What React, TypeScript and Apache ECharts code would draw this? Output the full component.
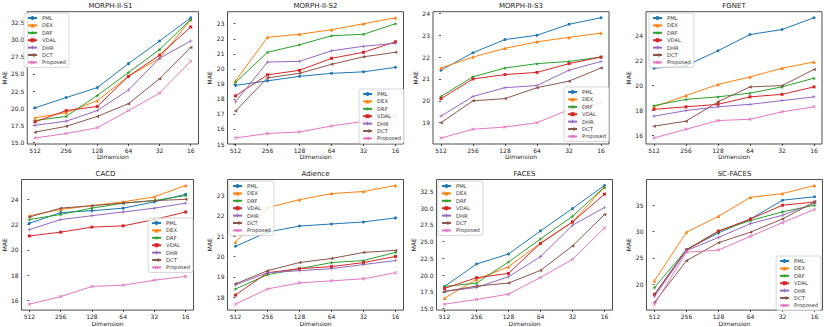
import React, { useEffect, useRef } from 'react';
import * as echarts from 'echarts';

const DIMENSIONS = ['512', '256', '128', '64', '32', '16'];
const METHODS = ['PML', 'DEX', 'DRF', 'VDAL', 'DHR', 'DCT', 'Proposed'];
const COLORS = ['#1f77b4', '#ff7f0e', '#2ca02c', '#d62728', '#9467bd', '#8c564b', '#e377c2'];

// rows follow METHODS order
const MORPH_S1 = [
  [20.05, 21.55, 23.0, 26.5, 29.8, 33.2],
  [18.6, 19.35, 21.1, 24.65, 27.3, 32.9],
  [18.2, 18.8, 21.85, 25.2, 28.55, 32.95],
  [18.0, 19.65, 20.25, 24.65, 27.75, 31.85],
  [17.5, 18.1, 19.65, 22.65, 27.3, 29.8],
  [16.5, 17.35, 18.8, 20.65, 24.3, 28.85],
  [15.65, 16.3, 17.15, 19.65, 22.2, 26.85],
];
const MORPH_S2 = [
  [18.9, 19.2, 19.5, 19.7, 19.8, 20.1],
  [19.2, 22.1, 22.3, 22.6, 23.0, 23.4],
  [19.1, 21.1, 21.6, 22.2, 22.3, 23.0],
  [18.2, 19.6, 19.9, 20.7, 21.1, 21.8],
  [17.8, 20.45, 20.5, 21.2, 21.5, 21.7],
  [17.2, 19.4, 19.7, 20.3, 20.8, 21.1],
  [15.4, 15.7, 15.8, 16.2, 16.5, 16.9],
];
const MORPH_S3 = [
  [21.4, 22.2, 22.8, 23.0, 23.5, 23.8],
  [21.5, 22.0, 22.4, 22.7, 22.9, 23.1],
  [20.2, 21.1, 21.5, 21.7, 21.8, 22.0],
  [20.1, 21.0, 21.2, 21.3, 21.7, 22.0],
  [19.3, 20.2, 20.6, 20.7, 21.4, 21.8],
  [19.0, 20.0, 20.1, 20.6, 20.9, 21.5],
  [18.3, 18.7, 18.8, 19.0, 19.6, 19.9],
];
const FGNET = [
  [21.4, 21.6, 22.8, 24.1, 24.5, 25.45],
  [18.3, 19.2, 20.1, 20.7, 21.4, 21.9],
  [18.4, 18.9, 19.1, 19.4, 19.9, 20.6],
  [18.1, 18.3, 18.5, 19.1, 19.3, 19.9],
  [17.55, 18.0, 18.3, 18.5, 18.8, 19.1],
  [16.75, 17.15, 18.7, 19.9, 20.0, 21.3],
  [15.8, 16.5, 17.2, 17.3, 17.9, 18.3],
];
const CACD = [
  [22.1, 22.95, 23.1, 23.3, 23.8, 24.4],
  [22.7, 23.2, 23.5, 23.8, 24.2, 25.1],
  [22.4, 22.8, 23.3, 23.7, 23.9, 24.3],
  [21.1, 21.4, 21.8, 21.9, 22.4, 23.0],
  [21.6, 22.4, 22.7, 23.0, 23.3, 23.7],
  [22.6, 23.3, 23.5, 23.7, 23.9, 24.0],
  [15.7, 16.3, 17.1, 17.2, 17.6, 17.9],
];
const ADIENCE = [
  [20.5, 21.2, 21.5, 21.6, 21.7, 21.9],
  [20.7, 22.4, 22.8, 23.1, 23.2, 23.5],
  [18.4, 19.1, 19.4, 19.7, 19.8, 20.2],
  [18.1, 19.2, 19.4, 19.5, 19.7, 20.0],
  [18.6, 19.2, 19.3, 19.4, 19.6, 19.8],
  [18.65, 19.3, 19.7, 19.9, 20.2, 20.3],
  [17.65, 18.4, 18.7, 18.8, 18.9, 19.2],
];
const FACES = [
  [18.3, 21.65, 23.15, 26.6, 29.95, 33.4],
  [16.55, 19.35, 21.25, 24.75, 27.95, 33.15],
  [18.3, 18.8, 21.95, 25.4, 28.8, 33.15],
  [18.0, 19.6, 20.25, 24.75, 27.95, 32.1],
  [17.55, 18.15, 19.75, 22.75, 27.45, 30.1],
  [17.55, 18.35, 18.8, 20.7, 24.35, 29.05],
  [15.65, 16.35, 17.15, 19.65, 22.35, 27.05],
];
const SC_FACES = [
  [18.1, 26.6, 29.75, 32.4, 35.95, 36.6],
  [20.7, 29.9, 32.9, 36.5, 37.2, 38.75],
  [19.4, 26.6, 30.1, 32.1, 33.75, 35.0],
  [18.1, 26.5, 30.1, 32.4, 35.0, 35.6],
  [17.7, 26.4, 28.9, 31.5, 33.1, 35.4],
  [16.6, 24.5, 27.9, 29.9, 32.4, 35.6],
  [16.25, 26.1, 26.5, 29.1, 31.7, 34.2],
];

const TICKS_S1 = [15, 17.5, 20, 22.5, 25, 27.5, 30, 32.5];
const TICKS_S2 = [15, 16, 17, 18, 19, 20, 21, 22, 23];
const TICKS_S3 = [19, 20, 21, 22, 23, 24];
const TICKS_FGNET = [16, 18, 20, 22, 24];
const TICKS_CACD = [16, 18, 20, 22, 24];
const TICKS_ADIENCE = [18, 19, 20, 21, 22, 23];
const TICKS_FACES = [15, 17.5, 20, 22.5, 25, 27.5, 30, 32.5];
const TICKS_SC = [20, 25, 30, 35];

const STAR = 'path://M50,0 L61,35 L98,35 L68,57 L79,91 L50,70 L21,91 L32,57 L2,35 L39,35 Z';
const PLUS = 'path://M40,0 H60 V40 H100 V60 H60 V100 H40 V60 H0 V40 H40 Z';
const CROSS = 'path://M15,0 L50,35 L85,0 L100,15 L65,50 L100,85 L85,100 L50,65 L15,100 L0,85 L35,50 L0,15 Z';
const TRI_LEFT = 'path://M0,50 L100,0 L100,100 Z';
const SYMBOLS = ['circle', 'triangle', STAR, 'rect', PLUS, TRI_LEFT, CROSS];
const SYMBOL_SIZES = [3, 3.5, 4, 3, 3.5, 3.5, 3.5];

const FONT = 'DejaVu Sans';
const INK = '#222';

const ROW1_TOP = 11.7;
const ROW2_TOP = 179.5;
const H = 132.3;
const W = 176;

const PANELS = [
  { title: 'MORPH-II-S1', data: MORPH_S1, ticks: TICKS_S1, dec: 1, left: 22.5, top: ROW1_TOP, nameGap: 18, legend: { left: 24, top: 13 } },
  { title: 'MORPH-II-S2', data: MORPH_S2, ticks: TICKS_S2, dec: 0, left: 227.5, top: ROW1_TOP, nameGap: 12, legend: { right: 427, top: 89 } },
  { title: 'MORPH-II-S3', data: MORPH_S3, ticks: TICKS_S3, dec: 0, left: 433, top: ROW1_TOP, nameGap: 10, legend: { right: 222, top: 87 } },
  { title: 'FGNET', data: FGNET, ticks: TICKS_FGNET, dec: 0, left: 646, top: ROW1_TOP, nameGap: 10, legend: { left: 649, top: 13 } },
  { title: 'CACD', data: CACD, ticks: TICKS_CACD, dec: 0, left: 17.5, top: ROW2_TOP, nameGap: 11, legend: { right: 638, top: 218 } },
  { title: 'Adience', data: ADIENCE, ticks: TICKS_ADIENCE, dec: 0, left: 227.5, top: ROW2_TOP, nameGap: 12, legend: { left: 229, top: 181 } },
  { title: 'FACES', data: FACES, ticks: TICKS_FACES, dec: 1, left: 436.5, top: ROW2_TOP, nameGap: 18, legend: { left: 438, top: 181 } },
  { title: 'SC-FACES', data: SC_FACES, ticks: TICKS_SC, dec: 0, left: 646.5, top: ROW2_TOP, nameGap: 11, legend: { right: 10, top: 256 } },
];

const X_POS = DIMENSIONS.map((_, i) => i);

function buildOption() {
  const grid: any[] = [];
  const xAxis: any[] = [];
  const yAxis: any[] = [];
  const series: any[] = [];
  const legend: any[] = [];
  const graphic: any[] = [];

  PANELS.forEach((p, i) => {
    const all = p.data.flat();
    const dmin = Math.min(...all);
    const dmax = Math.max(...all);
    const pad = (dmax - dmin) * 0.05;

    grid.push({
      left: p.left, top: p.top, width: W, height: H,
      show: true, borderColor: INK, borderWidth: 0.8, backgroundColor: 'transparent',
    });
    xAxis.push({
      type: 'value', gridIndex: i, min: -0.25, max: 5.25,
      axisLine: { show: false },
      splitLine: { show: false },
      axisTick: { show: true, customValues: X_POS, length: 2, lineStyle: { color: INK, width: 0.8 } },
      axisLabel: {
        customValues: X_POS, fontSize: 6, color: INK, margin: 3, fontFamily: FONT,
        formatter: (v: number) => DIMENSIONS[Math.round(v)] ?? '',
      },
      name: 'Dimension', nameLocation: 'middle', nameGap: 9,
      nameTextStyle: { fontSize: 6, color: INK, fontFamily: FONT },
    });
    yAxis.push({
      type: 'value', gridIndex: i, min: dmin - pad, max: dmax + pad,
      axisLine: { show: false },
      splitLine: { show: false },
      axisTick: { show: true, customValues: p.ticks, length: 2, lineStyle: { color: INK, width: 0.8 } },
      axisLabel: {
        customValues: p.ticks, fontSize: 6, color: INK, margin: 3, fontFamily: FONT,
        formatter: (v: number) => v.toFixed(p.dec),
      },
      name: 'MAE', nameLocation: 'middle', nameGap: p.nameGap, nameRotate: 90,
      nameTextStyle: { fontSize: 6, color: INK, fontFamily: FONT },
    });
    METHODS.forEach((m, j) => {
      series.push({
        type: 'line', name: m, xAxisIndex: i, yAxisIndex: i,
        data: p.data[j].map((v, k) => [X_POS[k], v]),
        symbol: SYMBOLS[j], symbolSize: SYMBOL_SIZES[j], showSymbol: true,
        lineStyle: { width: 1, color: COLORS[j] },
        itemStyle: { color: COLORS[j] },
        emphasis: { disabled: true },
        z: 2 + j * 0.01,
      });
    });
    legend.push({
      data: METHODS, orient: 'vertical', ...p.legend,
      itemWidth: 9, itemHeight: 5, itemGap: 1.4, padding: [2, 3],
      textStyle: { fontSize: 5.2, lineHeight: 6, color: '#333', fontFamily: FONT },
      backgroundColor: 'rgba(255,255,255,0.8)', borderColor: '#ccc', borderWidth: 0.8, borderRadius: 2,
      selectedMode: false, z: 10,
    });
    graphic.push({
      type: 'text', x: p.left + W / 2, y: p.top - 5.5, z: 10,
      style: {
        text: p.title, fontSize: 7, fill: INK, fontFamily: FONT,
        align: 'center', verticalAlign: 'middle', textAlign: 'center', textVerticalAlign: 'middle',
      },
    });
  });

  return {
    animation: false,
    backgroundColor: '#fff',
    textStyle: { fontFamily: FONT },
    grid, xAxis, yAxis, series, legend, graphic,
  };
}

export default function App() {
  const ref = useRef<HTMLDivElement>(null);
  useEffect(() => {
    if (!ref.current) return;
    const chart = echarts.init(ref.current, undefined, { renderer: 'svg' });
    chart.setOption(buildOption() as any);
    return () => chart.dispose();
  }, []);
  return (
    <div
      ref={ref}
      style={{ position: 'fixed', left: 0, top: 0, width: 831, height: 327, background: '#fff' }}
    />
  );
}
